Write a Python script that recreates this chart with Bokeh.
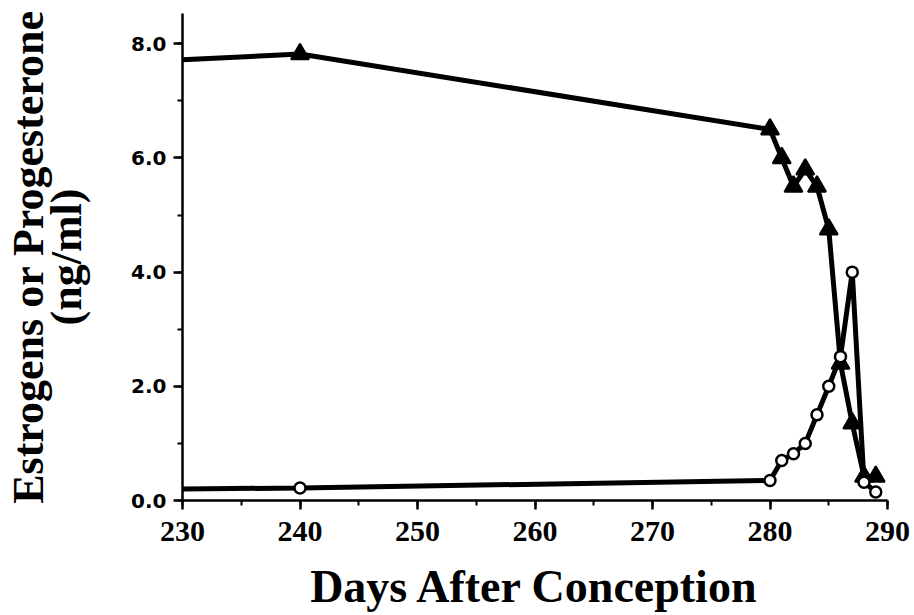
from bokeh.plotting import figure
from bokeh.models import Range1d, SingleIntervalTicker, PrintfTickFormatter
from bokeh.embed import file_html
from bokeh.resources import INLINE

# Data
days = [230, 240, 280, 281, 282, 283, 284, 285, 286, 287, 288, 289]
progesterone = [7.72, 7.82, 6.5, 6.0, 5.5, 5.8, 5.5, 4.75, 2.4, 1.35, 0.42, 0.42]
estrogens = [0.2, 0.22, 0.35, 0.7, 0.82, 1.0, 1.5, 2.0, 2.52, 4.0, 0.32, 0.15]

x_title = "Days After Conception"
y_title = "Estrogens or Progesterone\n(ng/ml)"

p = figure(width=914, height=615,
           x_range=Range1d(230, 290), y_range=Range1d(0, 8.53),
           output_backend="svg", toolbar_location=None,
           min_border_left=182, min_border_right=27,
           min_border_top=13, min_border_bottom=115)

p.grid.visible = False
p.outline_line_color = None
p.background_fill_color = "white"
p.border_fill_color = "white"

# lines
p.line(days, estrogens, line_color="black", line_width=5)
p.line(days, progesterone, line_color="black", line_width=5)
# markers (no marker at the first, clipped point)
p.scatter(days[1:], progesterone[1:], marker="triangle", size=18,
          fill_color="black", line_color="black", line_width=2)
p.scatter(days[1:], estrogens[1:], marker="circle", size=11,
          fill_color="white", line_color="black", line_width=2.5)

# x axis
xa = p.xaxis[0]
xa.ticker = SingleIntervalTicker(interval=10, num_minor_ticks=2)
xa.axis_line_width = 2.5
xa.axis_line_color = "black"
xa.major_tick_line_width = 2.5
xa.minor_tick_line_width = 2
xa.major_tick_out = 9
xa.major_tick_in = 0
xa.minor_tick_out = 5
xa.minor_tick_in = 0
xa.major_label_standoff = 12
xa.major_label_text_font = "Liberation Serif"
xa.major_label_text_font_style = "bold"
xa.major_label_text_font_size = "30px"
xa.major_label_text_color = "black"
xa.axis_label = x_title
xa.axis_label_text_font = "Liberation Serif"
xa.axis_label_text_font_style = "bold"
xa.axis_label_text_font_size = "46px"
xa.axis_label_text_color = "black"
xa.axis_label_standoff = 17

# y axis
ya = p.yaxis[0]
ya.ticker = SingleIntervalTicker(interval=2, num_minor_ticks=2)
ya.formatter = PrintfTickFormatter(format="%.1f")
ya.axis_line_width = 2.5
ya.axis_line_color = "black"
ya.major_tick_line_width = 2.5
ya.minor_tick_line_width = 2
ya.major_tick_out = 9
ya.major_tick_in = 0
ya.minor_tick_out = 5
ya.minor_tick_in = 0
ya.major_label_standoff = 7
ya.major_label_text_font = "DejaVu Sans"
ya.major_label_text_font_style = "bold"
ya.major_label_text_font_size = "20px"
ya.major_label_text_color = "black"
ya.axis_label = y_title
ya.axis_label_text_font = "Liberation Serif"
ya.axis_label_text_font_style = "bold"
ya.axis_label_text_font_size = "44px"
ya.axis_label_text_line_height = 0.78
ya.axis_label_text_color = "black"
ya.axis_label_standoff = 37

open("out.html", "w").write(file_html(p, INLINE))
